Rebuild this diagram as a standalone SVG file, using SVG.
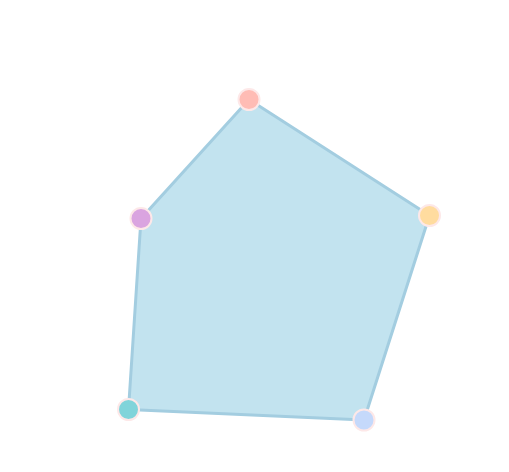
<svg xmlns="http://www.w3.org/2000/svg" width="509" height="472" viewBox="0 0 509 472">
<style>
.poly{fill:#c2e3ef;stroke:#a3cde0;stroke-width:3;stroke-linejoin:round}
.pt{stroke:#fde8e8;stroke-width:2}
</style>
<rect width="509" height="472" fill="#ffffff"/>
<g id="connectors">
<polygon class="poly" points="249,99.5 429.5,215.5 364,420 128.5,409.5 141,218.5"/>
</g>
<g id="p1"><circle class="pt" cx="249" cy="99.5" r="10.5" fill="#ffbcb5"/></g>
<g id="p2"><circle class="pt" cx="429.5" cy="215.5" r="10.5" fill="#ffdc9f"/></g>
<g id="p3"><circle class="pt" cx="364" cy="420" r="10.5" fill="#c5d9fb"/></g>
<g id="p4"><circle class="pt" cx="128.5" cy="409.5" r="10.5" fill="#80d4da"/></g>
<g id="p5"><circle class="pt" cx="141" cy="218.5" r="10.5" fill="#daa4e0"/></g>
</svg>
